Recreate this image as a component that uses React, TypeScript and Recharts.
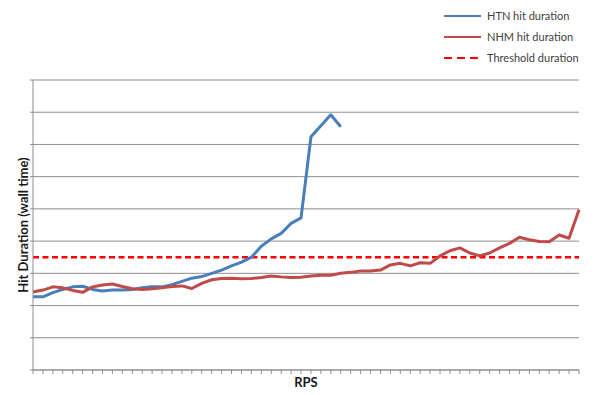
import {
  LineChart,
  Line,
  XAxis,
  YAxis,
  CartesianGrid,
  ReferenceLine,
  Legend,
} from "recharts";

// RPS steps along the x axis (no labels shown on the original)
const rpsSteps = Array.from({ length: 56 }, (_, i) => i + 1);

// hit duration (wall time)
const htnHitDuration = [
  2.27, 2.27, 2.4, 2.5, 2.58, 2.6, 2.5, 2.45, 2.48, 2.48,
  2.5, 2.55, 2.58, 2.58, 2.65, 2.75, 2.85, 2.9, 3.0, 3.1,
  3.23, 3.35, 3.5, 3.84, 4.07, 4.24, 4.55, 4.72, 7.24, 7.58,
  7.92, 7.55,
];

const nhmHitDuration = [
  2.42, 2.48, 2.58, 2.55, 2.47, 2.41, 2.58, 2.64, 2.67, 2.59,
  2.52, 2.5, 2.52, 2.55, 2.59, 2.61, 2.53, 2.69, 2.8, 2.84,
  2.85, 2.83, 2.84, 2.87, 2.92, 2.89, 2.87, 2.88, 2.92, 2.94,
  2.94, 3.0, 3.03, 3.07, 3.07, 3.1, 3.26, 3.31, 3.23, 3.33,
  3.31, 3.54, 3.7, 3.79, 3.63, 3.54, 3.63, 3.79, 3.93, 4.12,
  4.04, 3.99, 3.98, 4.19, 4.09, 4.97,
];

const thresholdDuration = 3.5;
const yTicks = [0, 1, 2, 3, 4, 5, 6, 7, 8, 9];

const BLUE = "#4A7EBB";
const RED = "#BE4B48";
const THRESH = "#FF0000";
const GRID = "#8E8E8E";

const legendItems = [
  { name: "HTN hit duration", color: BLUE, dash: undefined as string | undefined },
  { name: "NHM hit duration", color: RED, dash: undefined as string | undefined },
  { name: "Threshold duration", color: THRESH, dash: "8 5" },
];

const data = rpsSteps.map((rps, i) => ({
  rps,
  htn: i < htnHitDuration.length ? htnHitDuration[i] : null,
  nhm: nhmHitDuration[i],
}));

function ChartLegend() {
  return (
    <div style={{ fontFamily: "Lato, sans-serif", fontSize: 11, color: "#404040" }}>
      {legendItems.map((item) => (
        <div
          key={item.name}
          style={{ display: "flex", alignItems: "center", height: 21 }}
        >
          <svg width={40} height={6}>
            <line
              x1={1}
              x2={38}
              y1={3}
              y2={3}
              stroke={item.color}
              strokeWidth={2}
              strokeDasharray={item.dash}
            />
          </svg>
          <span style={{ marginLeft: 4 }}>{item.name}</span>
        </div>
      ))}
    </div>
  );
}

export default function App() {
  return (
    <div
      style={{
        position: "absolute",
        left: 0,
        top: 0,
        width: 604,
        height: 395,
        background: "#fff",
      }}
    >
      <LineChart
        width={604}
        height={395}
        data={data}
        margin={{ top: 80, right: 25, left: 13, bottom: 0 }}
      >
        <CartesianGrid vertical={false} stroke={GRID} strokeWidth={1} />
        <XAxis
          dataKey="rps"
          interval={0}
          height={25}
          stroke={GRID}
          tickSize={4}
          tick={() => <g />}
          label={{
            value: "RPS",
            position: "center",
            fontFamily: "Lato, sans-serif",
            fontWeight: 700,
            fontSize: 13,
            fill: "#1a1a1a",
          }}
        />
        <YAxis
          type="number"
          domain={[0, 9]}
          ticks={yTicks}
          interval={0}
          width={20}
          stroke={GRID}
          tickSize={3}
          tick={() => <g />}
          label={{
            value: "Hit Duration (wall time)",
            angle: -90,
            position: "center",
            fontFamily: "Lato, sans-serif",
            fontWeight: 700,
            fontSize: 13,
            fill: "#1a1a1a",
          }}
        />
        <ReferenceLine
          y={thresholdDuration}
          stroke={THRESH}
          strokeWidth={2.5}
          strokeDasharray="6 3.5"
        />
        <Line
          type="linear"
          dataKey="htn"
          stroke={BLUE}
          strokeWidth={3}
          dot={false}
          strokeLinejoin="round"
          isAnimationActive={false}
        />
        <Line
          type="linear"
          dataKey="nhm"
          stroke={RED}
          strokeWidth={3}
          dot={false}
          strokeLinejoin="round"
          isAnimationActive={false}
        />
        <Legend
          layout="vertical"
          align="center"
          verticalAlign="middle"
          content={() => <ChartLegend />}
          wrapperStyle={{ top: 5, left: 443, width: 160 }}
        />
      </LineChart>
    </div>
  );
}
